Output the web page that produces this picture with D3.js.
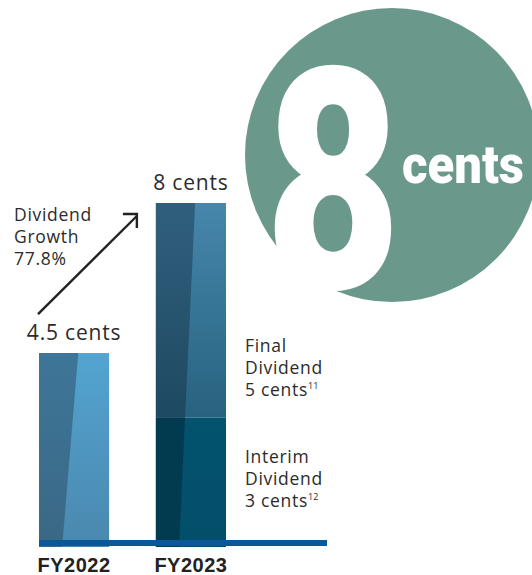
<!DOCTYPE html>
<html>
<head>
<title>Dividend per share</title>
<style>
body {
  margin: 0;
  background: #ffffff;
}
svg {
  display: block;
}
.lbl {
  font-family: "Open Sans", Lato, sans-serif;
  fill: #2b2b2b;
}
.axis-lbl {
  font-family: "Liberation Sans", Arial, sans-serif;
  font-weight: bold;
  font-size: 20px;
  letter-spacing: 0.5px;
  fill: #222222;
}
</style>
<script src="https://d3js.org/d3.v7.min.js"></script>
</head>
<body>
<svg id="chart" width="532" height="575"></svg>

<script>
  // data
  const years = ['FY2022', 'FY2023'];
  const totalCents = [4.5, 8];
  const interimCents = [0, 3];     // FY2022 is shown as one block
  const finalCents = [4.5, 5];
  const totalLabels = ['4.5 cents', '8 cents'];
  const growthLabel = ['Dividend', 'Growth', '77.8%'];
  const finalLabel = ['Final', 'Dividend', '5 cents', '11'];
  const interimLabel = ['Interim', 'Dividend', '3 cents', '12'];
  const badgeValue = '8';
  const badgeUnit = 'cents';

  const svg = d3.select('#chart');
  const defs = svg.append('defs');

  const x = d3.scaleBand()
    .domain(years)
    .range([39, 226])
    .paddingInner(0.4)
    .paddingOuter(0);

  const y = d3.scaleLinear()
    .domain([0, 8])
    .range([546, 203]);

  // colours: [left top, left bottom, right top, right bottom]
  const palette = {
    'FY2022-final': ['#3e7698', '#3a6885', '#53a4d1', '#4a88ae'],
    'FY2023-final': ['#305f7d', '#1f4962', '#4787ac', '#27627f'],
    'FY2023-interim': ['#023b51', '#023a4f', '#03526e', '#024f6a']
  };

  function grad(id, c0, c1) {
    const g = defs.append('linearGradient')
      .attr('id', id)
      .attr('x1', 0).attr('y1', 0).attr('x2', 0).attr('y2', 1);
    g.append('stop').attr('offset', '0%').attr('stop-color', c0);
    g.append('stop').attr('offset', '100%').attr('stop-color', c1);
  }
  Object.keys(palette).forEach(k => {
    const c = palette[k];
    grad(k + '-L', c[0], c[1]);
    grad(k + '-R', c[2], c[3]);
  });

  // stacked segments
  const segments = [];
  years.forEach((yr, i) => {
    if (interimCents[i] > 0) segments.push({ year: yr, kind: 'interim', y0: 0, y1: interimCents[i], total: totalCents[i] });
    segments.push({ year: yr, kind: 'final', y0: interimCents[i], y1: interimCents[i] + finalCents[i], total: totalCents[i] });
  });

  const fTop = 0.56, fBot = 0.33; // slanted shading edge, as fraction of bar width
  const bw = x.bandwidth();
  const barBottom = y(0) + 1;

  function slantX(d, py) {
    const top = y(d.total);
    const f = fTop + (py - top) / (barBottom - top) * (fBot - fTop);
    return x(d.year) + f * bw;
  }

  const bars = svg.append('g');
  segments.forEach(d => {
    const key = d.year + '-' + d.kind;
    const yt = y(d.y1);
    const yb = d.y0 === 0 ? barBottom : y(d.y0);
    bars.append('rect')
      .attr('x', x(d.year))
      .attr('y', yt)
      .attr('width', bw)
      .attr('height', yb - yt)
      .attr('fill', `url(#${key}-R)`);
    bars.append('path')
      .attr('d', `M${x(d.year)},${yt}L${slantX(d, yt)},${yt}L${slantX(d, yb)},${yb}L${x(d.year)},${yb}Z`)
      .attr('fill', `url(#${key}-L)`);
  });

  // baseline
  svg.append('line')
    .attr('x1', x(years[0]))
    .attr('x2', 327)
    .attr('y1', y(0) - 3)
    .attr('y2', y(0) - 3)
    .attr('stroke', '#0b5799')
    .attr('stroke-width', 6);

  // year labels
  svg.selectAll('.axis-lbl')
    .data(years)
    .enter().append('text')
    .attr('class', 'axis-lbl')
    .attr('x', d => x(d) + bw / 2)
    .attr('y', 572)
    .attr('text-anchor', 'middle')
    .text(d => d);

  // totals above bars
  svg.selectAll('.total')
    .data(years)
    .enter().append('text')
    .attr('class', 'lbl total')
    .attr('x', d => x(d) + bw / 2)
    .attr('y', (d, i) => y(totalCents[i]) - 13)
    .attr('text-anchor', 'middle')
    .attr('font-size', 21)
    .attr('letter-spacing', 0.8)
    .text((d, i) => totalLabels[i]);

  // growth annotation
  const ax0 = x(years[0]) - 1, ay0 = y(totalCents[0]) - 39;
  const ax1 = x(years[1]) - 19, ay1 = y(totalCents[1]) + 13;
  const arrow = svg.append('g')
    .attr('stroke', '#222')
    .attr('stroke-width', 2.4)
    .attr('fill', 'none');
  arrow.append('line').attr('x1', ax0).attr('y1', ay0).attr('x2', ax1).attr('y2', ay1);
  arrow.append('path').attr('d', `M${ax1 - 14},${ay1 - 2}L${ax1},${ay1 - 2}L${ax1},${ay1 + 12}`);

  const gl = svg.append('text')
    .attr('class', 'lbl')
    .attr('font-size', 17.5)
    .attr('letter-spacing', 0.7);
  growthLabel.forEach((t, i) => {
    gl.append('tspan').attr('x', 14).attr('y', 221 + i * 22).text(t);
  });

  function segLabel(lines, yTop) {
    const t = svg.append('text')
      .attr('class', 'lbl')
      .attr('font-size', 17.5)
      .attr('letter-spacing', 0.7);
    for (let i = 0; i < 3; i++) {
      t.append('tspan').attr('x', 245).attr('y', yTop + i * 22).text(lines[i]);
    }
    t.append('tspan')
      .attr('font-size', 9)
      .attr('letter-spacing', 0)
      .attr('dy', -7)
      .text(lines[3]);
  }
  segLabel(finalLabel, 352);
  segLabel(interimLabel, 463);

  // badge
  const cx = 392, cy = 155, r = 147;
  svg.append('circle')
    .attr('cx', cx).attr('cy', cy).attr('r', r)
    .attr('fill', '#6a998c');

  function fitText(str, cxText, baseline, inkHeight, width, ratio) {
    const fs = inkHeight / ratio;
    const t = svg.append('text')
      .attr('font-family', 'Roboto, Inter, sans-serif')
      .attr('font-weight', 900)
      .attr('font-size', fs)
      .attr('fill', '#ffffff')
      .attr('text-anchor', 'middle')
      .text(str);
    const len = t.node().getComputedTextLength();
    const sx = width / len;
    t.attr('transform', `translate(${cxText},${baseline}) scale(${sx},1)`);
  }
  fitText(badgeValue, cx - 59, 288, 220, 136, 0.711);
  fitText(badgeUnit, cx + 71, 183, 28, 122, 0.528);
</script>
</body>
</html>
